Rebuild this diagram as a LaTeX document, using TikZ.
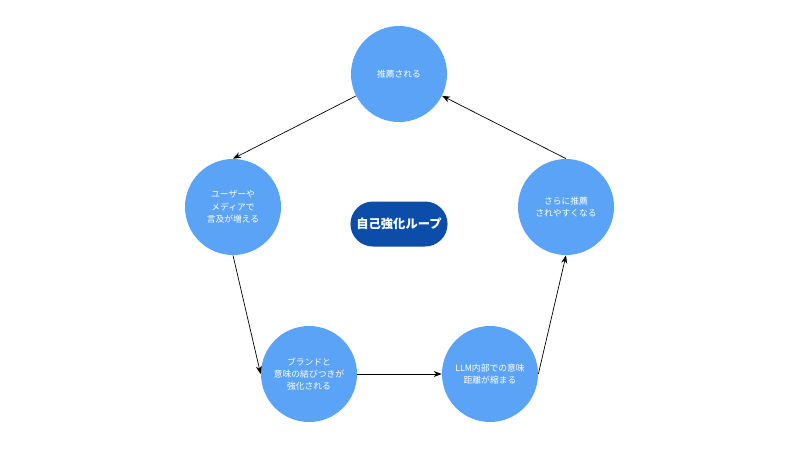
\documentclass[tikz,border=0pt]{standalone}
\usepackage{fontspec}
\setmainfont{Noto Sans CJK JP}
\usetikzlibrary{arrows.meta}
\definecolor{stepblue}{HTML}{5BA3F7}
\definecolor{loopblue}{HTML}{0B4DA8}
\tikzset{
	stepcirc/.style={circle, fill=stepblue, text=white, minimum size=1.92cm, inner sep=0pt, align=center, font=\fontsize{5}{7}\selectfont},
	looplink/.style={draw=black, thin, -{Stealth[length=1.6mm, width=1.2mm]}}
}
\begin{document}
\begin{tikzpicture}[x=2cm, y=2cm]
		\useasboundingbox[fill=white] (0,0) rectangle (8,4.5);
		\node[stepcirc] (rec) at (3.99,3.76) {推薦される};
		\node[stepcirc] (ment) at (2.33,2.43) {ユーザーや\\メディアで\\言及が増える};
		\node[stepcirc] (brand) at (3.09,0.76) {ブランドと\\意味の結びつきが\\強化される};
		\node[stepcirc] (dist) at (4.90,0.76) {LLM内部での意味\\距離が縮まる};
		\node[stepcirc] (more) at (5.66,2.43) {さらに推薦\\されやすくなる};
		\node[rounded corners=0.45cm, fill=loopblue, text=white, minimum width=1.9cm, minimum height=0.9cm, font=\fontsize{7}{8}\selectfont\bfseries] (loop) at (3.99,2.26) {自己強化ループ};
		\draw[looplink] (rec) -- (ment.north);
		\draw[looplink] (ment.south) -- (brand.west);
		\draw[looplink] (brand) -- (dist);
		\draw[looplink] (dist.east) -- (more.south);
		\draw[looplink] (more.north) -- (rec);
	\end{tikzpicture}
\end{document}
